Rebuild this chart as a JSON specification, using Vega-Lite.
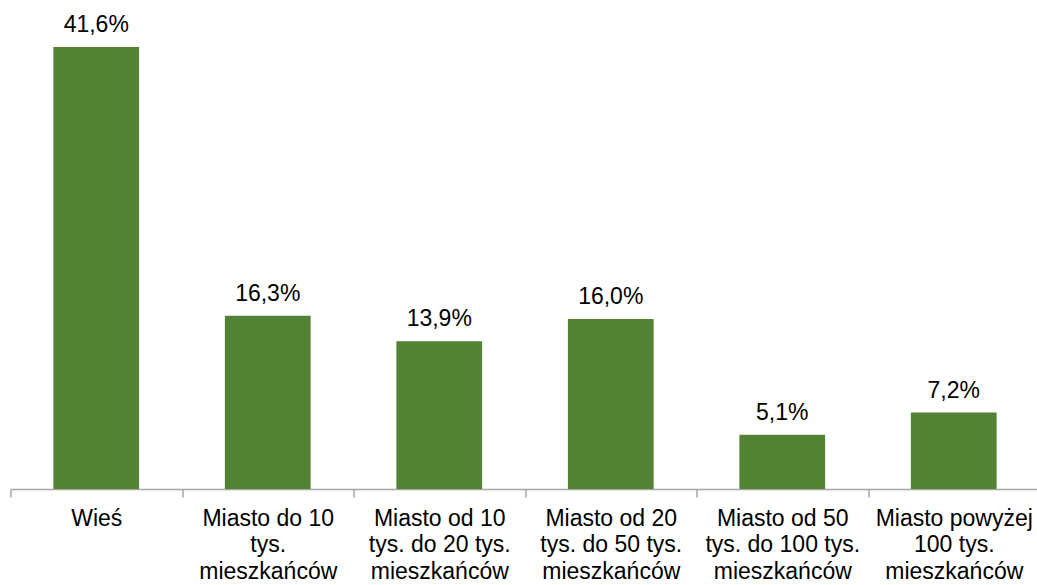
{
  "$schema": "https://vega.github.io/schema/vega-lite/v6.json",
  "width": 1029,
  "height": 478,
  "padding": {"left": 9.5, "top": 11, "right": 0, "bottom": 0},
  "background": "white",
  "config": {"view": {"stroke": null}, "font": "Liberation Sans"},
  "data": {
    "values": [
      {"kategoria": "Wieś", "wartosc": 41.6, "etykieta": "41,6%"},
      {"kategoria": "Miasto do 10|tys.|mieszkańców", "wartosc": 16.3, "etykieta": "16,3%"},
      {"kategoria": "Miasto od 10|tys. do 20 tys.|mieszkańców", "wartosc": 13.9, "etykieta": "13,9%"},
      {"kategoria": "Miasto od 20|tys. do 50 tys.|mieszkańców", "wartosc": 16.0, "etykieta": "16,0%"},
      {"kategoria": "Miasto od 50|tys. do 100 tys.|mieszkańców", "wartosc": 5.1, "etykieta": "5,1%"},
      {"kategoria": "Miasto powyżej|100 tys.|mieszkańców", "wartosc": 7.2, "etykieta": "7,2%"}
    ]
  },
  "encoding": {
    "x": {
      "field": "kategoria",
      "type": "nominal",
      "sort": null,
      "scale": {"paddingInner": 0, "paddingOuter": 0},
      "axis": {
        "title": null,
        "labelAngle": 0,
        "labelExpr": "split(datum.label, '|')",
        "labelFont": "Liberation Sans",
        "labelFontSize": 23,
        "labelColor": "#000000",
        "labelLineHeight": 26.5,
        "labelPadding": 10,
        "labelBaseline": "top",
        "labelLimit": 0,
        "tickBand": "extent",
        "tickSize": 8,
        "tickColor": "#a6a6a6",
        "domainColor": "#a6a6a6",
        "domainWidth": 1.5,
        "tickWidth": 1.5
      }
    },
    "y": {
      "field": "wartosc",
      "type": "quantitative",
      "scale": {"domain": [0, 45], "nice": false},
      "axis": null
    }
  },
  "layer": [
    {"mark": {"type": "bar", "color": "#548235", "width": {"band": 0.5}}},
    {
      "mark": {"type": "text", "font": "Liberation Sans", "fontSize": 23, "color": "#000000", "baseline": "alphabetic", "dy": -15},
      "encoding": {"text": {"field": "etykieta"}}
    }
  ]
}
